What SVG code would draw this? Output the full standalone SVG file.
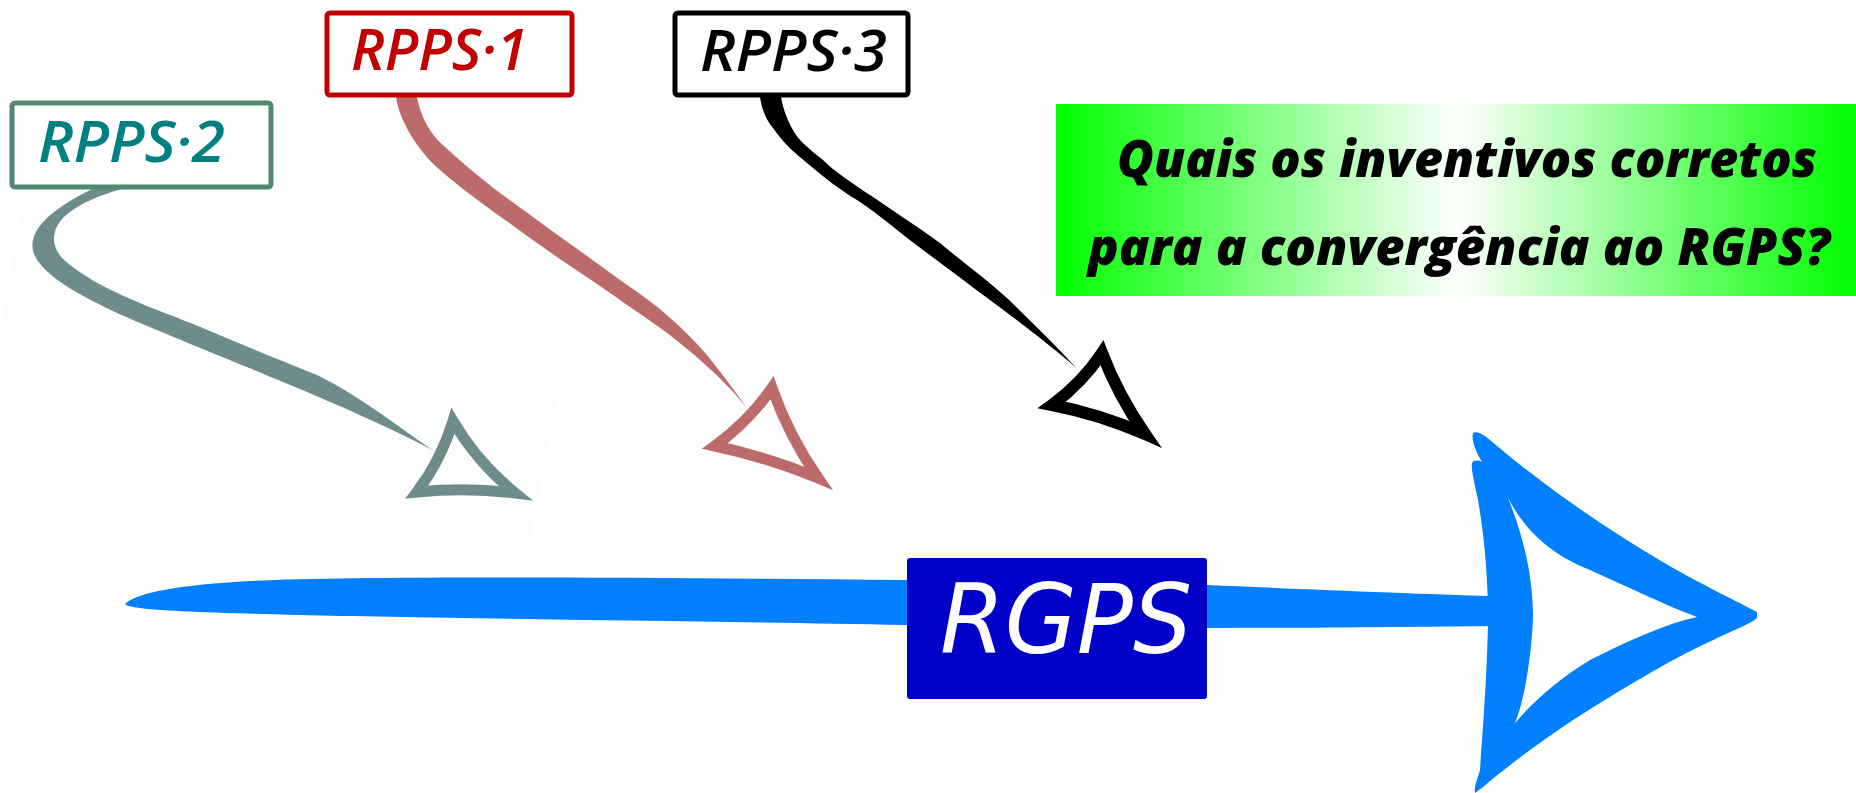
<svg xmlns="http://www.w3.org/2000/svg" width="1856" height="793" viewBox="0 0 1856 793">
  <defs>
    <linearGradient id="greenGrad" x1="0" y1="0" x2="1" y2="0">
      <stop offset="0" stop-color="#00ff00"/>
      <stop offset="0.5" stop-color="#ffffff"/>
      <stop offset="1" stop-color="#00ff00"/>
    </linearGradient>
  </defs>
  <style>
    .lbl { fill: #ffffff; stroke-width: 5; }
    .ltxt { font-family: "Open Sans", "Noto Sans", "DejaVu Sans", sans-serif; font-style: italic; font-weight: 600; font-size: 58px; }
    .qtxt { font-family: "Open Sans", "Noto Sans", sans-serif; font-style: italic; font-weight: 800; font-size: 52px; fill: #000000; }
    .rtxt { font-family: "DejaVu Sans", "Noto Sans", sans-serif; font-style: italic; font-size: 96px; fill: #ffffff; }
    .head { fill: none; stroke-linejoin: miter; stroke-miterlimit: 6; }
    .faint { fill: #fdfdfd; }
  </style>
  <rect x="0" y="0" width="1856" height="793" fill="#ffffff"/>

  <!-- faint backgrounds of the sketched arrows -->
  <path class="faint" d="M0,333 L25,190 L275,203 L375,103 L590,60 L702,137 L760,60 L950,40 L1056,104 L1056,296 L1250,296 L1250,310 L1116,493 L909,360 L781,543 L558,393 L526,560 L510,560 L0,400 Z"/>

  <g id="connectors">
    <!-- main RGPS arrow shaft -->
    <path fill="#0080ff" d="M126,603 C140,592 180,585 250,581 C350,576 600,577 905,580 L1207,585 C1300,589 1420,594 1490,596 L1490,626 C1420,627 1300,628 1207,628 L905,625 C700,621 420,618 300,615 C220,613 160,611 140,608 C128,606 124,605 126,603 Z"/>
    <!-- main arrowhead -->
    <path fill="#0080ff" fill-rule="evenodd" d="M1473,433 C1476,431 1482,433 1490,440 C1540,483 1607,530 1673,568 C1705,586 1740,603 1757,612 L1757,618 C1750,624 1740,627 1707,643 C1670,660 1620,690 1573,720 C1540,742 1505,768 1483,787 L1475,793 C1474,785 1478,778 1480,770 C1482,740 1487,680 1488,620 C1488,580 1485,540 1478,500 C1474,480 1471,470 1472,463 C1474,460 1478,460 1482,462 C1476,452 1471,440 1473,433 Z M1508,498 C1520,520 1540,550 1590,570 C1630,588 1665,605 1697,617 C1665,624 1630,640 1590,660 C1560,678 1535,700 1515,723 C1525,700 1532,650 1533,617 C1533,580 1525,540 1508,498 Z"/>

    <!-- RPPS-2 connector (teal) -->
    <path fill="#6f8c8c" d="M92,189 C70,200 38,218 33,240 C28,262 55,284 117,313 C160,332 250,368 300,389 C340,406 400,432 434,451 C400,428 360,396 317,375 C280,360 250,348 217,334 C180,318 150,308 133,300 C105,288 80,275 62,258 C50,245 52,228 65,216 C80,203 100,195 122,189 Z"/>
    <path class="head" stroke="#6f8c8c" stroke-width="11" d="M453,421 Q477,462 515,493 Q466,487 417,492 Q441,460 453,421 Z"/>

    <!-- RPPS-1 connector (red) -->
    <path fill="#bd6a6a" d="M396,97 C399,118 415,148 440,170 C470,196 500,216 530,238 C555,256 575,269 597,284 C620,300 645,317 663,330 C690,350 725,380 746,407 C730,384 712,360 697,344 C678,324 658,306 633,289 C608,272 588,256 566,241 C548,228 532,216 515,204 C496,190 480,178 463,163 C447,149 436,140 430,130 C423,119 419,108 417,97 Z"/>
    <path class="head" stroke="#bd6a6a" stroke-width="11" d="M772,388 Q789,436 818,478 Q767,457 715,446 Q749,421 772,388 Z"/>

    <!-- RPPS-3 connector (black) -->
    <path fill="#000000" d="M760,97 C762,110 766,120 773,128 C785,145 795,153 807,163 C825,178 840,190 857,200 C880,215 900,233 923,250 C945,266 968,284 990,300 C1010,315 1030,330 1040,338 C1055,350 1068,360 1077,369 C1065,355 1040,330 1007,298 C985,278 960,260 940,243 C915,225 895,212 873,197 C852,183 835,172 823,160 C808,148 798,140 793,130 C787,120 783,108 781,97 Z"/>
    <path class="head" stroke="#000000" stroke-width="12" d="M1102,353 Q1118,395 1145,434 Q1099,414 1052,405 Q1082,383 1102,353 Z"/>
  </g>

  <g id="rpps2">
    <rect class="lbl" x="12" y="103" width="259" height="84" rx="3" stroke="#4f8a6f"/>
    <text class="ltxt" x="38" y="162" fill="#008080" textLength="187" lengthAdjust="spacingAndGlyphs">RPPS·2</text>
  </g>
  <g id="rpps1">
    <rect class="lbl" x="327" y="13" width="245" height="82" rx="3" stroke="#c00000"/>
    <text class="ltxt" x="351" y="70" fill="#c00000" textLength="177" lengthAdjust="spacingAndGlyphs">RPPS·1</text>
  </g>
  <g id="rpps3">
    <rect class="lbl" x="675" y="13" width="233" height="82" rx="3" stroke="#000000"/>
    <text class="ltxt" x="700" y="71" fill="#000000" textLength="187" lengthAdjust="spacingAndGlyphs">RPPS·3</text>
  </g>

  <g id="question">
    <rect x="1056" y="104" width="800" height="192" fill="url(#greenGrad)"/>
    <text class="qtxt" x="1117" y="177" textLength="700" lengthAdjust="spacingAndGlyphs">Quais os inventivos corretos</text>
    <text class="qtxt" x="1088" y="265" textLength="742" lengthAdjust="spacingAndGlyphs">para a convergência ao RGPS?</text>
  </g>

  <g id="rgps">
    <rect x="907" y="558" width="300" height="141" rx="3" fill="#0000c8"/>
    <text class="rtxt" x="940" y="653" textLength="252" lengthAdjust="spacingAndGlyphs">RGPS</text>
  </g>
</svg>
